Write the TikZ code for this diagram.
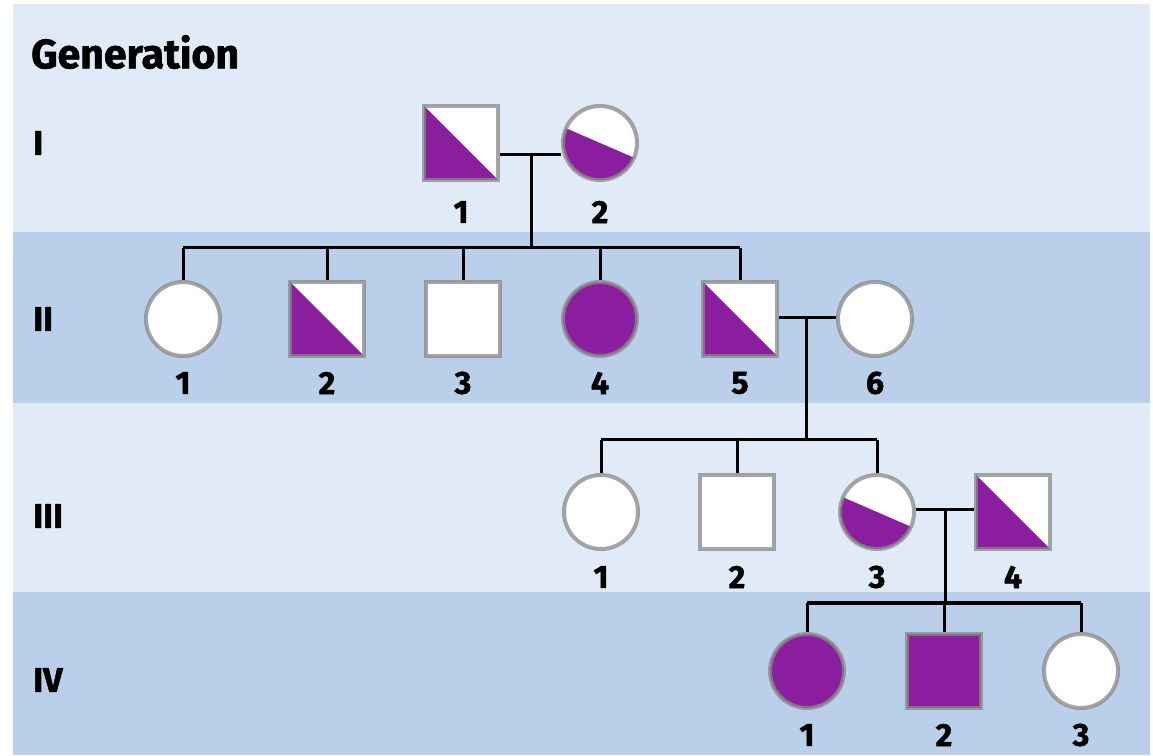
\documentclass[tikz,border=0pt]{standalone}
\usepackage{fontspec}
\setmainfont{Fira Sans}[BoldFeatures={FakeBold=1.6}]
\definecolor{bandlight}{HTML}{E0EBF7}
\definecolor{banddark}{HTML}{BAD0EA}
\definecolor{pur}{HTML}{8A1E9E}
\definecolor{rim}{HTML}{888888}
\begin{document}
\begin{tikzpicture}[x=1pt,y=1pt,
  ind/.style={minimum size=74pt,inner sep=0pt,line width=4pt,draw=rim,draw opacity=0.75,fill=white},
  male/.style={ind,rectangle},
  female/.style={ind,circle},
  full/.style={fill=pur},
  halfsq/.style={path picture={\fill[pur,shift={(path picture bounding box.center)}] (-45,45) -- (45,-45) -- (-45,-45) -- cycle;}},
  halfci/.style={path picture={\fill[pur,shift={(path picture bounding box.center)}] (-60,26) -- (60,-26) -- (60,-60) -- (-60,-60) -- cycle;}},
  lbl/.style={font=\bfseries\fontsize{32}{32}\selectfont,inner sep=0pt},
  gen/.style={font=\bfseries\fontsize{34}{34}\selectfont,inner sep=0pt,anchor=west},
  con/.style={line width=3pt,black}]
\useasboundingbox (0,0) rectangle (1153,755);
\fill[white] (0,0) rectangle (1153,755);
\fill[bandlight] (13,0) rectangle (1150,751);
\fill[banddark] (13,352) rectangle (1150,523);
\fill[banddark] (13,0) rectangle (1150,163);

% generation labels
\node[gen,font=\bfseries\fontsize{41}{41}\selectfont] (title) at (31,703) {Generation};
\node[gen] (g1) at (33,612) {I};
\node[gen] (g2) at (33,436) {II};
\node[gen] (g3) at (33,239) {III};
\node[gen] (g4) at (33,75) {IV};

% Generation I
\node[male,halfsq] (a1) at (461,612) {};
\node[female,halfci] (a2) at (600,612) {};
\node[lbl] (la1) at (461,543) {1};
\node[lbl] (la2) at (600,543) {2};

% Generation II
\node[female] (b1) at (183,436) {};
\node[male,halfsq] (b2) at (327,436) {};
\node[male] (b3) at (463,436) {};
\node[female,full] (b4) at (600,436) {};
\node[male,halfsq] (b5) at (740,436) {};
\node[female] (b6) at (875,436) {};
\foreach \n/\x in {1/183,2/327,3/463,4/600,5/740,6/875}
  \node[lbl] (lb\n) at (\x,372) {\n};

% Generation III
\node[female] (c1) at (601,243) {};
\node[male] (c2) at (737,243) {};
\node[female,halfci] (c3) at (877,243) {};
\node[male,halfsq] (c4) at (1013,243) {};
\foreach \n/\x in {1/601,2/737,3/877,4/1013}
  \node[lbl] (lc\n) at (\x,178) {\n};

% Generation IV
\node[female,full] (d1) at (807,84) {};
\node[male,full] (d2) at (944,84) {};
\node[female] (d3) at (1081,84) {};
\foreach \n/\x in {1/807,2/944,3/1081}
  \node[lbl] (ld\n) at (\x,20) {\n};

% connectors I
\coordinate (m1) at (531,600);
\coordinate (s1) at (531,507);
\draw[con] (a1.east |- m1) -- (a2.west |- m1);
\draw[con] (m1) -- (s1);
\draw[con] (b1.north |- s1) -- (b5.north |- s1);
\foreach \k in {b1,b2,b3,b4,b5} \draw[con] (\k.north |- s1) -- (\k.north);

% connectors II
\coordinate (m2) at (806,437);
\coordinate (s2) at (806,315);
\draw[con] (b5.east |- m2) -- (b6.west |- m2);
\draw[con] (m2) -- (s2);
\draw[con] (c1.north |- s2) -- (c3.north |- s2);
\foreach \k in {c1,c2,c3} \draw[con] (\k.north |- s2) -- (\k.north);

% connectors III
\coordinate (m3) at (945,245);
\coordinate (s3) at (945,152);
\draw[con] (c3.east |- m3) -- (c4.west |- m3);
\draw[con] (m3) -- (s3);
\draw[con] (d1.north |- s3) -- (d3.north |- s3);
\foreach \k in {d1,d2,d3} \draw[con] (\k.north |- s3) -- (\k.north);
\end{tikzpicture}
\end{document}
